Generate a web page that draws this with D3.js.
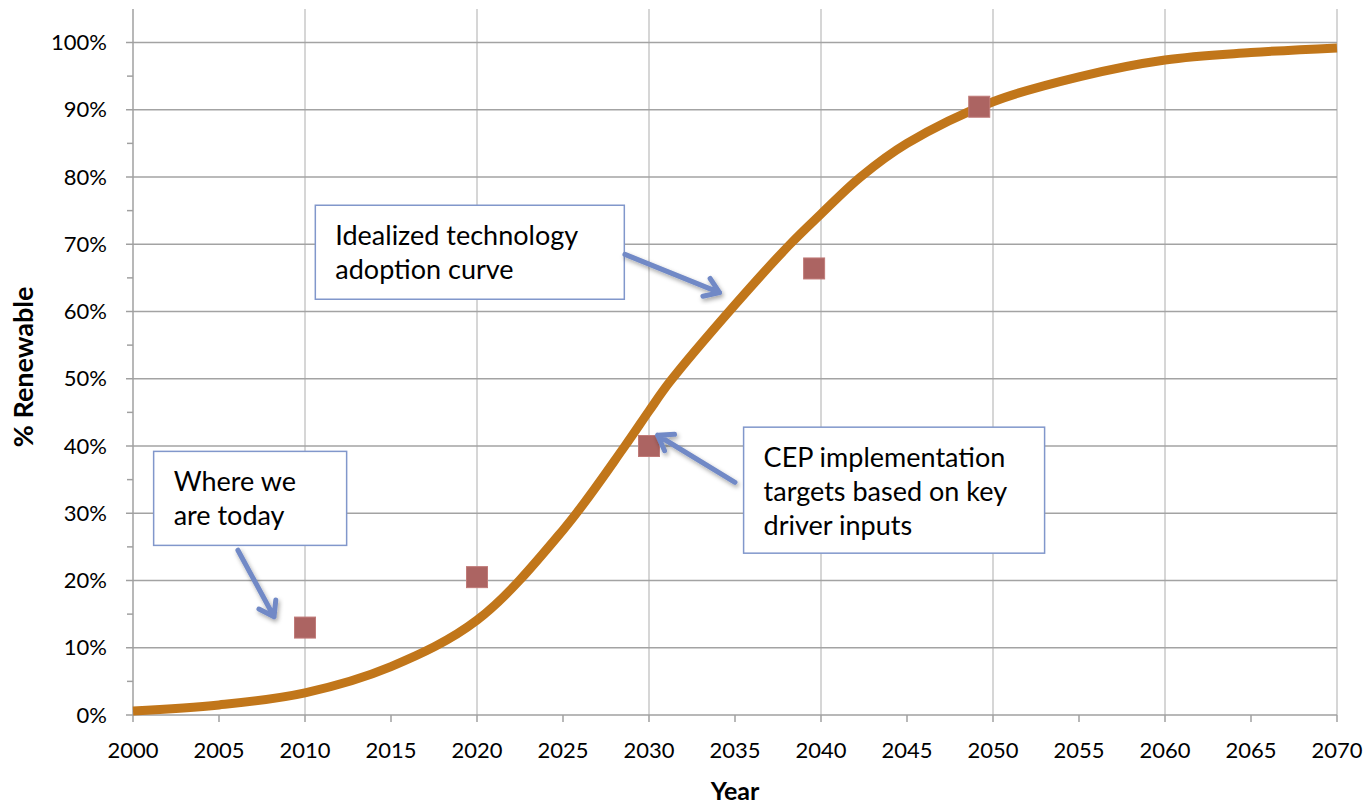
<!DOCTYPE html>
<html>
<head>
<meta charset="utf-8">
<script src="https://cdn.jsdelivr.net/npm/d3@7"></script>
<style>
  body { margin: 0; background: #fff; }
  text { font-family: Lato, "Open Sans", sans-serif; fill: #000; }
</style>
</head>
<body>
<div id="chart"></div>
<script>
// adoption curve (year, share)
const curveYears  = [2000, 2005, 2010, 2015, 2020, 2025, 2028.6, 2030, 2031.2, 2035, 2038.2, 2040, 2042.3, 2045, 2050, 2055, 2060, 2065, 2070];
const curveValues = [0.006, 0.015, 0.033, 0.072, 0.141, 0.275, 0.40, 0.452, 0.495, 0.61, 0.70, 0.745, 0.80, 0.85, 0.912, 0.949, 0.974, 0.985, 0.992];

// CEP target points
const targetYears  = [2010, 2020, 2030, 2039.6, 2049.2];
const targetValues = [0.13, 0.205, 0.40, 0.664, 0.9045];

const yTicks = [0, 0.1, 0.2, 0.3, 0.4, 0.5, 0.6, 0.7, 0.8, 0.9, 1.0];
const xTicks = d3.range(2000, 2071, 5);

// callouts: box corner in data units, arrow tail/tip in data units
const callouts = [
  { lines: ["Idealized technology", "adoption curve"], year: 2010.6, value: 0.758, w: 309, h: 94,
    from: [2028.6, 0.685], to: [2034.1, 0.628] },
  { lines: ["CEP implementation", "targets based on key", "driver inputs"], year: 2035.5, value: 0.428, w: 301, h: 126,
    from: [2035.0, 0.346], to: [2030.5, 0.416] },
  { lines: ["Where we", "are today"], year: 2001.2, value: 0.392, w: 193, h: 94,
    from: [2006.1, 0.245], to: [2008.2, 0.146] }
];

const width = 1371, height = 804;
const svg = d3.select("#chart").append("svg")
  .attr("width", width).attr("height", height);

const x = d3.scaleLinear().domain([2000, 2070]).range([133, 1337]);
const y = d3.scaleLinear().domain([0, 1.05]).range([715, 715 - 1.05 * 672.5]);

const defs = svg.append("defs");
const f = defs.append("filter").attr("id", "shadow").attr("x", "-20%").attr("y", "-20%").attr("width", "140%").attr("height", "140%");
f.append("feDropShadow").attr("dx", 1.5).attr("dy", 2.5).attr("stdDeviation", 2).attr("flood-color", "#000").attr("flood-opacity", 0.35);

// gridlines
svg.append("g").selectAll("line")
  .data(d3.range(2010, 2071, 10))
  .join("line")
  .attr("x1", d => x(d)).attr("x2", d => x(d))
  .attr("y1", y(1.05)).attr("y2", y(0))
  .attr("stroke", "#c8c8c8").attr("stroke-width", 1.5);

svg.append("g").selectAll("line")
  .data(yTicks.slice(1))
  .join("line")
  .attr("x1", x(2000)).attr("x2", x(2070))
  .attr("y1", d => y(d)).attr("y2", d => y(d))
  .attr("stroke", "#a3a3a3").attr("stroke-width", 1.5);

// y axis
const yAxis = svg.append("g").attr("transform", `translate(${x(2000)},0)`);
yAxis.append("line").attr("y1", y(1.05)).attr("y2", y(0)).attr("stroke", "#a0a0a0").attr("stroke-width", 1.5);
yAxis.selectAll(".minor").data(d3.range(0.05, 1.05, 0.1))
  .join("line").attr("class", "minor")
  .attr("x1", -6).attr("x2", 0).attr("y1", d => y(d)).attr("y2", d => y(d))
  .attr("stroke", "#a0a0a0").attr("stroke-width", 1.5);
yAxis.selectAll(".major").data(yTicks)
  .join("line").attr("class", "major")
  .attr("x1", -7).attr("x2", 0).attr("y1", d => y(d)).attr("y2", d => y(d))
  .attr("stroke", "#a0a0a0").attr("stroke-width", 1.5);
yAxis.selectAll("text").data(yTicks)
  .join("text")
  .attr("x", -26).attr("y", d => y(d)).attr("dy", "0.35em")
  .attr("text-anchor", "end").style("font-size", "22px")
  .text(d3.format(".0%"));

// x axis
const xAxis = svg.append("g").attr("transform", `translate(0,${y(0)})`);
xAxis.append("line").attr("x1", x(2000)).attr("x2", x(2070)).attr("stroke", "#a0a0a0").attr("stroke-width", 1.5);
xAxis.selectAll("line.tick").data(xTicks)
  .join("line").attr("class", "tick")
  .attr("x1", d => x(d)).attr("x2", d => x(d)).attr("y1", 0).attr("y2", 7)
  .attr("stroke", "#a0a0a0").attr("stroke-width", 1.5);
xAxis.selectAll("text").data(xTicks)
  .join("text")
  .attr("x", d => x(d)).attr("y", 43)
  .attr("text-anchor", "middle").style("font-size", "22px")
  .text(d => d);

// axis titles
svg.append("text")
  .attr("transform", `translate(33,${(y(0) + y(1.05)) / 2 + 5}) rotate(-90)`)
  .attr("text-anchor", "middle").style("font-size", "27px").style("font-weight", "bold")
  .text("% Renewable");
svg.append("text")
  .attr("x", (x(2000) + x(2070)) / 2).attr("y", 800)
  .attr("text-anchor", "middle").style("font-size", "25px").style("font-weight", "bold")
  .text("Year");

// adoption curve
const line = d3.line().x(d => x(d[0])).y(d => y(d[1])).curve(d3.curveCatmullRom.alpha(0.5));
svg.append("path")
  .datum(d3.zip(curveYears, curveValues))
  .attr("d", line)
  .attr("fill", "none").attr("stroke", "#c1761a").attr("stroke-width", 9);

// target markers
const ms = 21;
svg.append("g").selectAll("rect")
  .data(d3.zip(targetYears, targetValues))
  .join("rect")
  .attr("x", d => x(d[0]) - ms / 2).attr("y", d => y(d[1]) - ms / 2)
  .attr("width", ms).attr("height", ms)
  .attr("fill", "#ac6462").attr("stroke", "#c07a78").attr("stroke-width", 1);

// callouts
callouts.forEach(c => {
  const bx = x(c.year), by = y(c.value);
  const g = svg.append("g");
  g.append("rect")
    .attr("x", bx).attr("y", by).attr("width", c.w).attr("height", c.h)
    .attr("fill", "#fff").attr("stroke", "#8197cb").attr("stroke-width", 1.5);
  c.lines.forEach((t, i) => {
    g.append("text")
      .attr("x", bx + 20).attr("y", by + 40 + i * 34)
      .style("font-size", "27px")
      .text(t);
  });

  // arrow with open head
  const x1 = x(c.from[0]), y1 = y(c.from[1]);
  const x2 = x(c.to[0]), y2 = y(c.to[1]);
  const a = Math.atan2(y2 - y1, x2 - x1);
  const hl = 17, ha = 0.6;
  const p = d3.path();
  p.moveTo(x1, y1); p.lineTo(x2, y2);
  p.moveTo(x2 - hl * Math.cos(a - ha), y2 - hl * Math.sin(a - ha));
  p.lineTo(x2, y2);
  p.lineTo(x2 - hl * Math.cos(a + ha), y2 - hl * Math.sin(a + ha));
  svg.append("path")
    .attr("d", p.toString())
    .attr("fill", "none").attr("stroke", "#7189c6").attr("stroke-width", 5)
    .attr("stroke-linecap", "round").attr("stroke-linejoin", "round")
    .attr("filter", "url(#shadow)");
});
</script>
</body>
</html>
